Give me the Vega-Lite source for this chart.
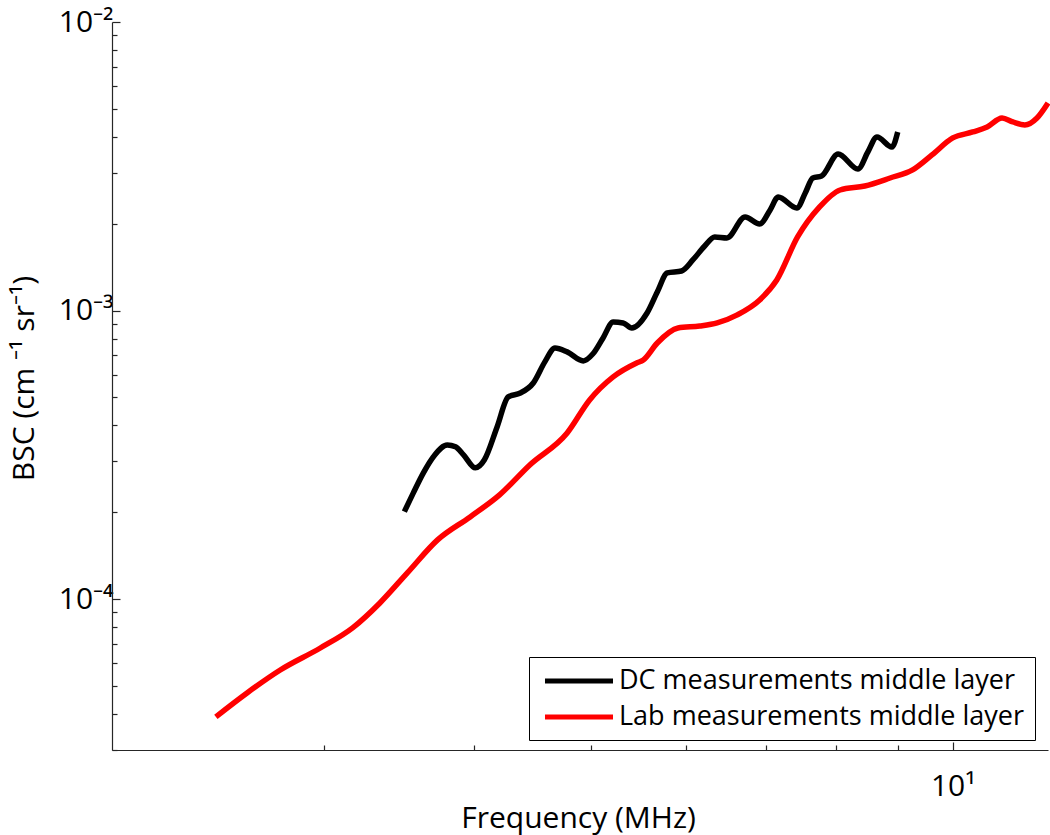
{
  "$schema": "https://vega.github.io/schema/vega-lite/v6.json",
  "width": 936,
  "height": 728,
  "autosize": {"type": "none"},
  "padding": {"left": 112, "top": 22, "right": 2, "bottom": 85},
  "background": "white",
  "config": {
    "view": {"stroke": null},
    "font": "Open Sans",
    "axis": {"grid": false, "domainColor": "#262626", "tickColor": "#262626", "domainWidth": 1.2, "tickWidth": 1.2, "labelColor": "black", "titleColor": "black", "labelFont": "Open Sans", "titleFont": "Open Sans", "titleFontWeight": "normal", "labelFontSize": 30, "titleFontSize": 30, "labelOverlap": false, "labelFlush": false}
  },
  "data": {
    "values": [
      {"series": "DC measurements middle layer", "freq": 3.50, "bsc": 0.000201},
      {"series": "DC measurements middle layer", "freq": 3.56, "bsc": 0.000233},
      {"series": "DC measurements middle layer", "freq": 3.63, "bsc": 0.000274},
      {"series": "DC measurements middle layer", "freq": 3.71, "bsc": 0.000316},
      {"series": "DC measurements middle layer", "freq": 3.80, "bsc": 0.000342},
      {"series": "DC measurements middle layer", "freq": 3.86, "bsc": 0.000337},
      {"series": "DC measurements middle layer", "freq": 3.92, "bsc": 0.000316},
      {"series": "DC measurements middle layer", "freq": 4.01, "bsc": 0.000285},
      {"series": "DC measurements middle layer", "freq": 4.08, "bsc": 0.000304},
      {"series": "DC measurements middle layer", "freq": 4.18, "bsc": 0.000395},
      {"series": "DC measurements middle layer", "freq": 4.27, "bsc": 0.000502},
      {"series": "DC measurements middle layer", "freq": 4.37, "bsc": 0.000518},
      {"series": "DC measurements middle layer", "freq": 4.48, "bsc": 0.000561},
      {"series": "DC measurements middle layer", "freq": 4.58, "bsc": 0.000664},
      {"series": "DC measurements middle layer", "freq": 4.67, "bsc": 0.000742},
      {"series": "DC measurements middle layer", "freq": 4.78, "bsc": 0.000719},
      {"series": "DC measurements middle layer", "freq": 4.93, "bsc": 0.000669},
      {"series": "DC measurements middle layer", "freq": 5.02, "bsc": 0.000707},
      {"series": "DC measurements middle layer", "freq": 5.12, "bsc": 0.000804},
      {"series": "DC measurements middle layer", "freq": 5.22, "bsc": 0.000913},
      {"series": "DC measurements middle layer", "freq": 5.32, "bsc": 0.000906},
      {"series": "DC measurements middle layer", "freq": 5.41, "bsc": 0.000870},
      {"series": "DC measurements middle layer", "freq": 5.57, "bsc": 0.000981},
      {"series": "DC measurements middle layer", "freq": 5.68, "bsc": 0.00116},
      {"series": "DC measurements middle layer", "freq": 5.79, "bsc": 0.00135},
      {"series": "DC measurements middle layer", "freq": 5.95, "bsc": 0.001371},
      {"series": "DC measurements middle layer", "freq": 6.08, "bsc": 0.001497},
      {"series": "DC measurements middle layer", "freq": 6.22, "bsc": 0.001674},
      {"series": "DC measurements middle layer", "freq": 6.34, "bsc": 0.001799},
      {"series": "DC measurements middle layer", "freq": 6.49, "bsc": 0.001785},
      {"series": "DC measurements middle layer", "freq": 6.72, "bsc": 0.00211},
      {"series": "DC measurements middle layer", "freq": 6.91, "bsc": 0.001996},
      {"series": "DC measurements middle layer", "freq": 7.05, "bsc": 0.002232},
      {"series": "DC measurements middle layer", "freq": 7.16, "bsc": 0.002475},
      {"series": "DC measurements middle layer", "freq": 7.42, "bsc": 0.002267},
      {"series": "DC measurements middle layer", "freq": 7.54, "bsc": 0.002556},
      {"series": "DC measurements middle layer", "freq": 7.65, "bsc": 0.00288},
      {"series": "DC measurements middle layer", "freq": 7.78, "bsc": 0.002927},
      {"series": "DC measurements middle layer", "freq": 8.03, "bsc": 0.003488},
      {"series": "DC measurements middle layer", "freq": 8.34, "bsc": 0.003094},
      {"series": "DC measurements middle layer", "freq": 8.50, "bsc": 0.003544},
      {"series": "DC measurements middle layer", "freq": 8.65, "bsc": 0.003995},
      {"series": "DC measurements middle layer", "freq": 8.90, "bsc": 0.003688},
      {"series": "DC measurements middle layer", "freq": 9.00, "bsc": 0.004158},
      {"series": "Lab measurements middle layer", "freq": 2.44, "bsc": 0.0000391},
      {"series": "Lab measurements middle layer", "freq": 2.59, "bsc": 0.0000473},
      {"series": "Lab measurements middle layer", "freq": 2.76, "bsc": 0.0000568},
      {"series": "Lab measurements middle layer", "freq": 2.98, "bsc": 0.0000677},
      {"series": "Lab measurements middle layer", "freq": 3.17, "bsc": 0.0000795},
      {"series": "Lab measurements middle layer", "freq": 3.34, "bsc": 0.000097},
      {"series": "Lab measurements middle layer", "freq": 3.52, "bsc": 0.0001233},
      {"series": "Lab measurements middle layer", "freq": 3.73, "bsc": 0.0001604},
      {"series": "Lab measurements middle layer", "freq": 3.97, "bsc": 0.0001927},
      {"series": "Lab measurements middle layer", "freq": 4.20, "bsc": 0.0002297},
      {"series": "Lab measurements middle layer", "freq": 4.45, "bsc": 0.0002917},
      {"series": "Lab measurements middle layer", "freq": 4.78, "bsc": 0.0003766},
      {"series": "Lab measurements middle layer", "freq": 4.99, "bsc": 0.00049},
      {"series": "Lab measurements middle layer", "freq": 5.22, "bsc": 0.000589},
      {"series": "Lab measurements middle layer", "freq": 5.46, "bsc": 0.000658},
      {"series": "Lab measurements middle layer", "freq": 5.53, "bsc": 0.000674},
      {"series": "Lab measurements middle layer", "freq": 5.68, "bsc": 0.000772},
      {"series": "Lab measurements middle layer", "freq": 5.91, "bsc": 0.00087},
      {"series": "Lab measurements middle layer", "freq": 6.16, "bsc": 0.000884},
      {"series": "Lab measurements middle layer", "freq": 6.37, "bsc": 0.000906},
      {"series": "Lab measurements middle layer", "freq": 6.62, "bsc": 0.000966},
      {"series": "Lab measurements middle layer", "freq": 6.91, "bsc": 0.001088},
      {"series": "Lab measurements middle layer", "freq": 7.14, "bsc": 0.001276},
      {"series": "Lab measurements middle layer", "freq": 7.43, "bsc": 0.001799},
      {"series": "Lab measurements middle layer", "freq": 7.75, "bsc": 0.002286},
      {"series": "Lab measurements middle layer", "freq": 8.06, "bsc": 0.002617},
      {"series": "Lab measurements middle layer", "freq": 8.45, "bsc": 0.002702},
      {"series": "Lab measurements middle layer", "freq": 8.87, "bsc": 0.00288},
      {"series": "Lab measurements middle layer", "freq": 9.26, "bsc": 0.00307},
      {"series": "Lab measurements middle layer", "freq": 9.61, "bsc": 0.003461},
      {"series": "Lab measurements middle layer", "freq": 10.00, "bsc": 0.003964},
      {"series": "Lab measurements middle layer", "freq": 10.39, "bsc": 0.004158},
      {"series": "Lab measurements middle layer", "freq": 10.68, "bsc": 0.004327},
      {"series": "Lab measurements middle layer", "freq": 10.99, "bsc": 0.004649},
      {"series": "Lab measurements middle layer", "freq": 11.22, "bsc": 0.004503},
      {"series": "Lab measurements middle layer", "freq": 11.48, "bsc": 0.004396},
      {"series": "Lab measurements middle layer", "freq": 11.75, "bsc": 0.004649},
      {"series": "Lab measurements middle layer", "freq": 12.00, "bsc": 0.00524}
    ]
  },
  "mark": {"type": "line", "strokeWidth": 5.5, "interpolate": "monotone"},
  "encoding": {
    "x": {
      "field": "freq",
      "type": "quantitative",
      "scale": {"type": "log", "domain": [2, 12], "nice": false},
      "axis": {
        "title": "Frequency (MHz)",
        "values": [3, 4, 5, 6, 7, 8, 9, 10],
        "labelExpr": "datum.value == 10 ? '10¹' : ''",
        "tickSize": {"condition": {"test": "datum.value == 10", "value": -8}, "value": -5},
        "labelPadding": 53,
        "labelBaseline": "alphabetic",
        "titleX": 466,
        "titleY": 77,
        "titleAlign": "center",
        "titleBaseline": "alphabetic"
      }
    },
    "y": {
      "field": "bsc",
      "type": "quantitative",
      "scale": {"type": "log", "domain": [0.00003, 0.01], "nice": false},
      "axis": {
        "title": "BSC (cm ⁻¹ sr⁻¹)",
        "values": [0.00003, 0.00004, 0.00005, 0.00006, 0.00007, 0.00008, 0.00009, 0.0001, 0.0002, 0.0003, 0.0004, 0.0005, 0.0006, 0.0007, 0.0008, 0.0009, 0.001, 0.002, 0.003, 0.004, 0.005, 0.006, 0.007, 0.008, 0.009, 0.01],
        "labelExpr": "abs(log(datum.value)/LN10 + 2) < 0.01 ? '10⁻²' : abs(log(datum.value)/LN10 + 3) < 0.01 ? '10⁻³' : abs(log(datum.value)/LN10 + 4) < 0.01 ? '10⁻⁴' : ''",
        "tickSize": {"condition": {"test": "abs(log(datum.value)/LN10 - round(log(datum.value)/LN10)) < 0.01", "value": -8}, "value": -5},
        "labelPadding": 7,
        "titleAngle": -90,
        "titleX": -79,
        "titleY": 356,
        "titleAlign": "center",
        "titleBaseline": "alphabetic"
      }
    },
    "color": {
      "field": "series",
      "type": "nominal",
      "scale": {"domain": ["DC measurements middle layer", "Lab measurements middle layer"], "range": ["#000000", "#ff0000"]},
      "legend": {
        "title": null,
        "orient": "none",
        "legendX": 417,
        "legendY": 635,
        "symbolType": "M-3,0H3",
        "symbolSize": 514,
        "symbolStrokeWidth": 5,
        "symbolOffset": 26,
        "labelFont": "Open Sans",
        "labelFontSize": 27,
        "labelColor": "black",
        "labelOffset": 26,
        "labelLimit": 0,
        "strokeColor": "black",
        "fillColor": "white",
        "padding": 10,
        "rowPadding": 9
      }
    }
  }
}
